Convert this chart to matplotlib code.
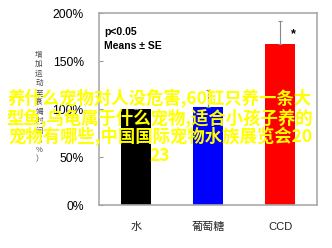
import matplotlib
matplotlib.use('Agg')
import matplotlib.pyplot as plt

plt.rcParams['font.family'] = ['Liberation Sans', 'Noto Sans CJK SC', 'DejaVu Sans']

groups = ['水', '葡萄糖', 'CCD']
values = [100, 102, 168]
errors = [0, 18, 24]
colors = ['#000000', '#0000ff', '#ff0000']
yticks = [0, 50, 100, 150, 200]
ytick_labels = ['0%', '50%', '100%', '150%', '200%']
ylabel = '增加运动至衰竭时间（%）'
overlay = '养什么宠物对人没危害,60缸只养一条大\n型鱼,乌龟属于什么宠物,适合小孩子养的\n宠物有哪些,中国国际宠物水族展览会20\n23'

fig = plt.figure(figsize=(3.32, 2.48), dpi=100)
ax = fig.add_axes([0.298, 0.173, 0.657, 0.774])

x = list(range(len(groups)))
ax.bar(x, values, width=0.42, color=colors, zorder=2)
ax.errorbar(x, values, yerr=[[0] * len(errors), errors], fmt='none',
            ecolor='#888888', elinewidth=0.8, capsize=1.5, capthick=0.8, zorder=3)

ax.set_xlim(-0.51, 2.51)
ax.set_ylim(0, 200)
ax.set_yticks(yticks)
ax.set_yticklabels(ytick_labels, fontsize=8.7)
ax.set_xticks(x)
ax.set_xticklabels(groups, fontsize=8, color='#222222')
ax.tick_params(axis='y', direction='in', length=3, color='#999999', pad=11)
ax.tick_params(axis='x', length=0, pad=12)
for s in ax.spines.values():
    s.set_color('#aaaaaa')
    s.set_linewidth(1.2)

ax.text(0.025, 0.9, 'p<0.05', transform=ax.transAxes, fontsize=7.5,
        fontweight='bold', va='center')
ax.text(0.025, 0.83, 'Means ± SE', transform=ax.transAxes, fontsize=7.5,
        fontweight='bold', va='center')
ax.text(2.18, 178, '*', fontsize=9, fontweight='bold', ha='center', va='center')

fig.text(39 / 332, 1 - 107 / 248, '\n'.join(ylabel), fontsize=5.5,
         color='#444444', ha='center', va='center', linespacing=1.25,
         family=['Noto Sans CJK SC', 'DejaVu Sans'])

fig.text(160 / 332, 1 - 127 / 248, overlay, fontsize=12.5, color='#ffff00',
         ha='center', va='center', linespacing=1.0, fontweight='bold',
         family=['Noto Sans CJK SC', 'DejaVu Sans'])

fig.savefig('out.png', dpi=100)
